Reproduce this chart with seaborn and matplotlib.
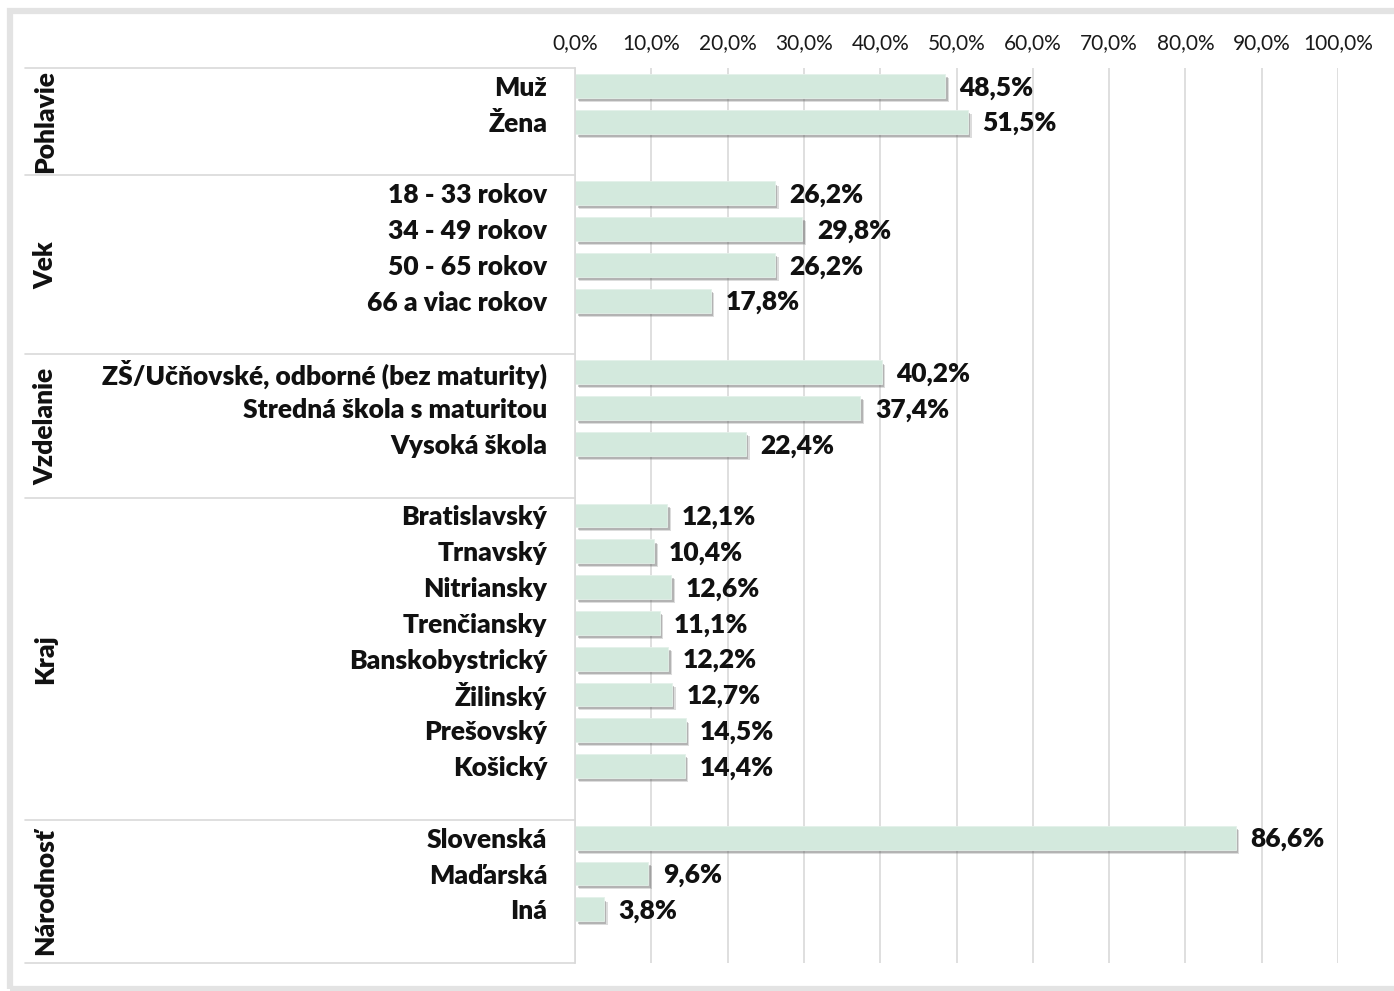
import matplotlib
matplotlib.use("Agg")
import matplotlib.pyplot as plt
import matplotlib.patheffects as pe
from matplotlib.patches import Rectangle
from matplotlib.lines import Line2D
import seaborn as sns
import pandas as pd

sns.set_theme(style="white")
plt.rcParams["font.family"] = ["Lato", "DejaVu Sans"]

# Respondent structure by group
groups = ["Pohlavie", "Vek", "Vzdelanie", "Kraj", "Národnosť"]
pohlavie_labels = ["Muž", "Žena"]
pohlavie_values = [48.5, 51.5]
vek_labels = ["18 - 33 rokov", "34 - 49 rokov", "50 - 65 rokov", "66 a viac rokov"]
vek_values = [26.2, 29.8, 26.2, 17.8]
vzdelanie_labels = ["ZŠ/Učňovské, odborné (bez maturity)", "Stredná škola s maturitou", "Vysoká škola"]
vzdelanie_values = [40.2, 37.4, 22.4]
kraj_labels = ["Bratislavský", "Trnavský", "Nitriansky", "Trenčiansky",
               "Banskobystrický", "Žilinský", "Prešovský", "Košický"]
kraj_values = [12.1, 10.4, 12.6, 11.1, 12.2, 12.7, 14.5, 14.4]
narodnost_labels = ["Slovenská", "Maďarská", "Iná"]
narodnost_values = [86.6, 9.6, 3.8]
x_ticks = [0, 10, 20, 30, 40, 50, 60, 70, 80, 90, 100]

group_items = [
    (pohlavie_labels, pohlavie_values),
    (vek_labels, vek_values),
    (vzdelanie_labels, vzdelanie_values),
    (kraj_labels, kraj_values),
    (narodnost_labels, narodnost_values),
]

# Category order with one empty slot closing each group
order, rows = [], []
spans = []
for gi, (labs, vals) in enumerate(group_items):
    start = len(order)
    for l, v in zip(labs, vals):
        order.append(l)
        rows.append({"kategoria": l, "podiel": v, "skupina": groups[gi]})
    order.append(" " * (gi + 1))
    spans.append((start, len(order)))
df = pd.DataFrame(rows)

W, H = 1394, 991
TOP, BOTTOM = 68, 963
fig = plt.figure(figsize=(W / 100, H / 100), dpi=100)
ax = fig.add_axes([575 / W, 1 - BOTTOM / H, (1338 - 575) / W, (BOTTOM - TOP) / H])

FS = 19
WEIGHT = "heavy"
TXT = "#111111"

bar_color = "#d3e9dd"
sns.barplot(data=df, x="podiel", y="kategoria", order=order, orient="h",
            color=bar_color, width=0.66, saturation=1, ax=ax, errorbar=None,
            edgecolor="#e4f1ea", linewidth=0.6)

# Soft drop shadow under each bar
shadow = [pe.SimplePatchShadow(offset=(2.6, -3.0), shadow_rgbFace="#777777", alpha=0.25),
          pe.SimplePatchShadow(offset=(1.8, -2.2), shadow_rgbFace="#555555", alpha=0.3),
          pe.Normal()]
for p in ax.patches:
    p.set_path_effects(shadow)

n = len(order)
ax.set_xlim(0, 100)
ax.set_ylim(n - 0.5, -0.5)
ax.set_xticks(x_ticks)
ax.set_xticklabels([f"{t:.1f}%".replace(".", ",") for t in x_ticks], fontsize=15,
                   color="#1a1a1a")
ax.xaxis.tick_top()
ax.tick_params(axis="x", length=0, pad=11)
ax.tick_params(axis="y", length=0, pad=20)
ax.set_xlabel("")
ax.set_ylabel("")
for lab in ax.get_yticklabels():
    lab.set_fontweight(WEIGHT)
    lab.set_fontsize(FS)
    lab.set_color(TXT)

ax.grid(axis="x", color="#d9d9d9", linewidth=1.2)
ax.set_axisbelow(True)
for s in ["top", "right", "bottom"]:
    ax.spines[s].set_visible(False)
ax.spines["left"].set_color("#d9d9d9")
ax.spines["left"].set_linewidth(1.2)

# Value labels
for lab, val in zip(df["kategoria"], df["podiel"]):
    y = order.index(lab)
    ax.text(val + 1.9, y + 0.05, f"{val:.1f}%".replace(".", ","), va="center", ha="left",
            fontsize=FS, fontweight=WEIGHT, color=TXT)

# Group separators and vertical group names
x_left = 25 / W
x_axis = 575 / W
step = (BOTTOM - TOP) / n


def boundary(k):
    return 1 - (TOP + k * step) / H


for gi, (a, b) in enumerate(spans):
    fig.add_artist(Line2D([x_left, x_axis], [boundary(a), boundary(a)],
                          color="#d9d9d9", linewidth=1.2))
    yc = (boundary(a) + boundary(b)) / 2
    fig.text(45 / W, yc, groups[gi], rotation=90, ha="center", va="center",
             fontsize=FS, fontweight=WEIGHT, color=TXT)
fig.add_artist(Line2D([x_left, x_axis], [boundary(n), boundary(n)],
                      color="#d9d9d9", linewidth=1.2))

# Chart frame
fig.add_artist(Rectangle((10 / W, 2 / H), 1.2, 1 - 13 / H, transform=fig.transFigure,
                         fill=False, edgecolor="#e3e3e3", linewidth=4.5))

fig.savefig("out.png", dpi=100, facecolor="white")
